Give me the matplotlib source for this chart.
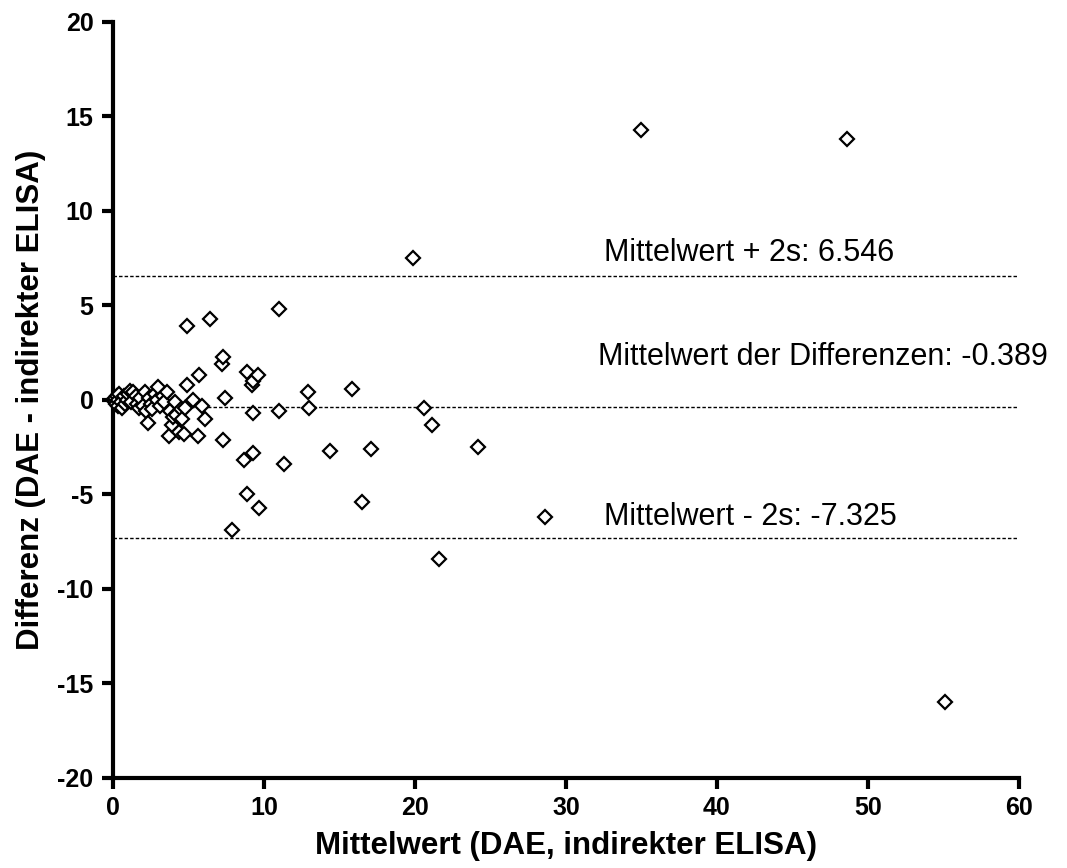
import matplotlib
matplotlib.use("Agg")
import matplotlib.pyplot as plt
import numpy as np

plt.rcParams['font.family'] = ['Liberation Sans', 'DejaVu Sans']

# Data: mean (x) and difference (y)
mean_vals = [
    0.05, 0.1, 0.15, 0.2, 0.25, 0.3, 0.35, 0.4, 0.5, 0.6, 0.7, 0.8, 0.9, 1.0, 1.1,
    1.2, 1.3, 1.5, 1.6, 1.7, 1.8, 2.0, 2.1, 2.2, 2.3, 2.4, 2.5, 2.6, 2.8, 2.9,
    3.0, 3.1, 3.3, 3.4, 3.6, 3.7, 3.8, 3.9, 4.0, 4.1, 4.2, 4.4, 4.5, 4.6, 4.7, 4.8,
    4.9, 4.9, 5.3, 5.6, 5.7, 5.9, 6.1, 6.4, 7.2, 7.3, 7.4, 7.3, 7.9,
    8.7, 8.9, 8.9, 9.2, 9.3, 9.3, 9.3, 9.6, 9.7,
    11.0, 11.0, 11.3, 12.9, 13.0, 14.4, 15.8, 16.5, 17.1,
    19.9, 20.6, 21.1, 21.6, 24.2, 28.6, 35.0, 48.6, 55.1,
]
diff_vals = [
    0.0, -0.1, 0.1, -0.2, 0.2, 0.0, -0.3, 0.3, -0.1, -0.4, 0.2, -0.2, 0.0, 0.3, 0.5,
    -0.1, 0.4, 0.2, -0.2, -0.4, 0.1, -0.3, 0.4, -0.6, -1.2, 0.1, -0.2, -0.5, 0.3, 0.0,
    0.7, -0.3, 0.2, -0.1, 0.4, -1.9, -0.6, -1.3, -0.9, -0.1, -0.8, -1.7, -0.5, -1.0, -1.8, -0.4,
    3.9, 0.8, 0.0, -1.9, 1.3, -0.3, -1.0, 4.3, 1.9, 2.3, 0.1, -2.1, -6.9,
    -3.2, 1.5, -5.0, 0.8, 1.0, -0.7, -2.8, 1.3, -5.7,
    4.8, -0.6, -3.4, 0.4, -0.4, -2.7, 0.6, -5.4, -2.6,
    7.5, -0.4, -1.3, -8.4, -2.5, -6.2, 14.3, 13.8, -16.0,
]

mean_diff = -0.389
upper = 6.546
lower = -7.325
line_labels = ["Mittelwert + 2s: 6.546",
               "Mittelwert der Differenzen: -0.389",
               "Mittelwert - 2s: -7.325"]
label_y = [7.8, 2.3, -6.2]
label_x = [32.5, 32.1, 32.5]

fig = plt.figure(figsize=(10.67, 8.68), dpi=100)
ax = fig.add_axes([0.1059, 0.1037, 0.9550 - 0.1059, 0.9747 - 0.1037])

ax.plot(mean_vals, diff_vals, linestyle='none', marker='D', markersize=7,
        markerfacecolor='white', markeredgecolor='black', markeredgewidth=1.6,
        clip_on=False, zorder=3)

for v in (upper, mean_diff, lower):
    ax.axhline(v, color='black', linestyle=(0, (2.5, 1.5)), linewidth=1.0, zorder=2)

for t, xv, yv in zip(line_labels, label_x, label_y):
    ax.text(xv, yv, t, fontsize=22, ha='left', va='center', color='black')

ax.set_xlim(0, 60)
ax.set_ylim(-20, 20)
ax.set_xticks([0, 10, 20, 30, 40, 50, 60])
ax.set_yticks([-20, -15, -10, -5, 0, 5, 10, 15, 20])
ax.set_yticklabels(['-20', '-15', '-10', '-5', '0', '5', '10', '15', '20'])

for s in ('top', 'right'):
    ax.spines[s].set_visible(False)
for s in ('left', 'bottom'):
    ax.spines[s].set_linewidth(3)

ax.tick_params(axis='both', direction='out', length=8, width=3, labelsize=18)
ax.tick_params(axis='y', pad=6)
ax.tick_params(axis='x', pad=5)
for lbl in ax.get_xticklabels() + ax.get_yticklabels():
    lbl.set_fontweight('bold')

ax.set_xlabel('Mittelwert (DAE, indirekter ELISA)', fontsize=22.5, fontweight='bold', labelpad=8)
ax.set_ylabel('Differenz (DAE - indirekter ELISA)', fontsize=22.5, fontweight='bold', labelpad=8)

fig.savefig('out.png', dpi=100)
